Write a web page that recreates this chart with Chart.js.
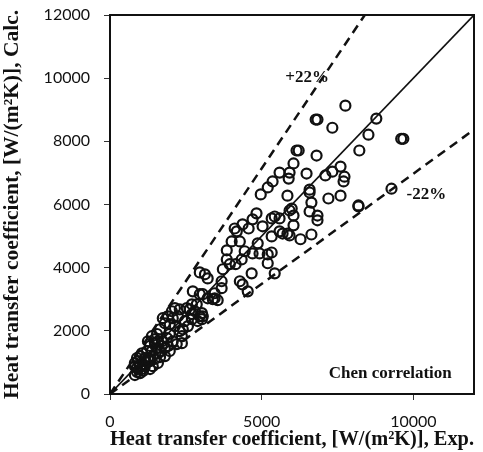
<!DOCTYPE html>
<html>
<head>
<meta charset="utf-8">
<script src="https://cdn.jsdelivr.net/npm/chart.js@4/dist/chart.umd.min.js"></script>
<style>
html,body{margin:0;padding:0;background:#fff;}
#wrap{width:483px;height:452px;}
</style>
</head>
<body>
<div id="wrap"><canvas id="c" width="483" height="452"></canvas></div>
<script>
// Experimental vs calculated heat transfer coefficient, W/(m2K)
const expValues = [
 7760,6780,6840,7330,8780,8520,9600,9670,8220,6150,6220,6810,6050,5590,5920,5890,6480,7100,7330,7600,7730,7700,
 6580,6580,5850,7200,7600,6640,5990,8190,8190,9280,6580,6050,6840,6840,6050,5590,5690,5850,6640,6280,
 5360,5200,4970,5920,4830,5330,5430,4700,4370,4570,5030,4110,4180,5330,5920,4010,4280,4870,3850,4440,4700,5330,
 4930,5200,3850,4340,5200,3950,4140,3720,4670,5430,2960,3130,3220,3680,4280,4370,4540,2730,3060,3450,3390,3550,
 2700,3030,3060,3680,5590,
 2700,2400,2040,2140,1740,1810,1650,1550,1480,2200,1810,1650,1150,990,890,1050,820,2960,2700,2530,2300,3030,2890,
 1970,2070,1910,2300,2370,1970,1880,1710,2070,1550,1380,1410,1250,1150,1090,990,890,820,1580,1410,1320,1090,990,
 2860,3220,3450,2960,2370,1810,890,820,
 1320,1480,1220,1050,1320,1150,1480,1650,920,1250,1380,1580,1710,1910,1970,2470,2570,2140,2240,2630,2800
];
const calcValues = [
 9130,8690,8690,8430,8720,8210,8080,8080,7710,7710,7710,7550,7300,7010,7010,6820,6980,6920,7040,7200,6880,6730,
 6470,6380,6280,6190,6280,6060,5870,5970,5940,6500,5780,5650,5650,5500,5340,5560,5080,5080,5050,4900,
 6730,6540,6320,5810,5720,5560,5620,5530,5370,5240,5310,5240,5150,4990,5020,4830,4830,4770,4550,4520,4450,4480,
 4450,4420,4260,4260,4140,4110,4110,3950,3820,3820,3850,3790,3660,3570,3570,3470,3250,3250,3160,3190,3000,2970,
 2840,2560,2460,3350,5150,
 2370,2050,2620,2720,2400,2240,2050,1900,1740,1580,1450,1360,1140,1200,1140,790,880,2460,2530,2720,2680,2370,2310,
 2210,2400,2460,1990,1830,1900,1770,1670,1670,1450,1360,1200,1140,1110,950,880,820,980,980,880,790,730,660,
 2840,3030,3030,3160,1610,1200,700,600,
 1520,1610,1360,1290,1040,880,1110,1170,1040,1670,1830,1670,1520,1520,1360,2310,2150,2150,2460,2680,2620
];
// reference lines: y = x, +22% and -22% bands (end points)
const lineEqual = [[0,0],[12000,12000]];
const linePlus = [[0,0],[8400,12000]];
const lineMinus = [[0,0],[12000,8370]];
const xTickValues = [0,5000,10000];
const yTickValues = [0,2000,4000,6000,8000,10000,12000];
const noteTexts = ['+22%','-22%','Chen correlation'];
const noteX = [6500,10430,9240];
const noteY = [10010,6320,660];

const toXY = arr => arr.map(p => ({x:p[0], y:p[1]}));
const pts = expValues.map((v,i) => ({x:v, y:calcValues[i]}));

const boxPlugin = {
  id:'box',
  afterDraw(chart){
    const a = chart.chartArea, ctx = chart.ctx;
    ctx.save();
    ctx.strokeStyle = '#111';
    ctx.lineWidth = 2;
    ctx.strokeRect(a.left, a.top, a.right - a.left, a.bottom - a.top);
    ctx.restore();
  },
  afterDatasetsDraw(chart){
    const ctx = chart.ctx, sx = chart.scales.x, sy = chart.scales.y;
    ctx.save();
    ctx.fillStyle = '#111';
    ctx.textAlign = 'center';
    ctx.textBaseline = 'middle';
    noteTexts.forEach((t,i) => {
      ctx.font = 'bold 17px "Liberation Serif", "DejaVu Serif", serif';
      ctx.fillText(t, sx.getPixelForValue(noteX[i]), sy.getPixelForValue(noteY[i]));
    });
    ctx.restore();
  }
};

new Chart(document.getElementById('c'), {
  type:'scatter',
  data:{
    datasets:[
      {type:'line', data:toXY(lineEqual), borderColor:'#111', borderWidth:1.6, pointRadius:0, fill:false},
      {type:'line', data:toXY(linePlus), borderColor:'#111', borderWidth:2.5, borderDash:[9,6], pointRadius:0, fill:false},
      {type:'line', data:toXY(lineMinus), borderColor:'#111', borderWidth:2.5, borderDash:[9,6], pointRadius:0, fill:false},
      {data:pts, pointRadius:5, pointBorderWidth:2.2, pointBorderColor:'#111', pointBackgroundColor:'rgba(0,0,0,0)', pointHoverRadius:5}
    ]
  },
  options:{
    responsive:false,
    devicePixelRatio:1,
    animation:false,
    layout:{padding:{left:0,right:9,top:15,bottom:0}},
    plugins:{legend:{display:false}, tooltip:{enabled:false}},
    scales:{
      x:{
        type:'linear', min:0, max:12000,
        afterBuildTicks: s => { s.ticks = xTickValues.map(v => ({value:v})); },
        afterFit: s => { s.height = 58; s.paddingLeft = 0; s.paddingRight = 0; },
        grid:{drawOnChartArea:false, drawTicks:true, tickLength:6, color:'#333', lineWidth:1},
        border:{display:false},
        ticks:{color:'#111', padding:12, maxRotation:0, font:{family:'Lato', size:16}, callback: v => String(v)},
        title:{display:true, text:'Heat transfer coefficient, [W/(m²K)], Exp.', color:'#111',
               font:{family:'"Liberation Serif"', size:21.5, weight:'bold'}, padding:{top:0,bottom:0}}
      },
      y:{
        type:'linear', min:0, max:12000,
        afterBuildTicks: s => { s.ticks = yTickValues.map(v => ({value:v})); },
        afterFit: s => { s.width = 110; s.paddingTop = 0; s.paddingBottom = 0; },
        grid:{drawOnChartArea:false, drawTicks:true, tickLength:6, color:'#333', lineWidth:1},
        border:{display:false},
        ticks:{color:'#111', padding:14, font:{family:'Lato', size:16}, callback: v => String(v)},
        title:{display:true, text:'Heat transfer coefficient, [W/(m²K)], Calc.', color:'#111',
               font:{family:'"Liberation Serif"', size:21.5, weight:'bold'}, padding:{top:0,bottom:0}}
      }
    }
  },
  plugins:[boxPlugin]
});
</script>
</body>
</html>
